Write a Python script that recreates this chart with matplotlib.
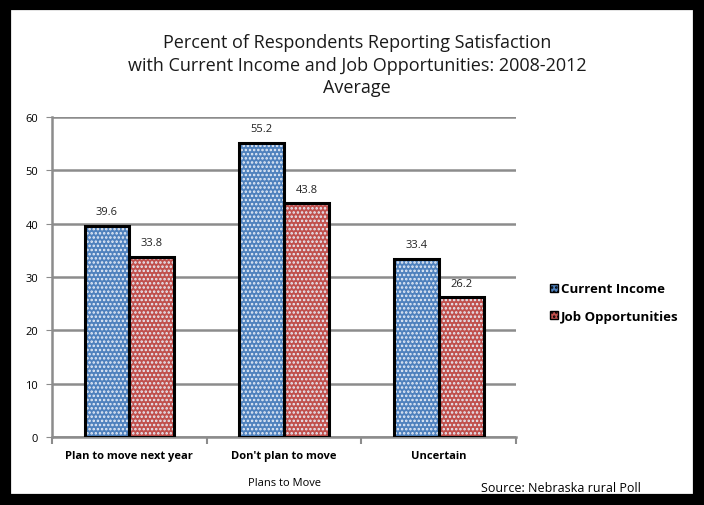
import numpy as np
import matplotlib
matplotlib.use('Agg')
import matplotlib.pyplot as plt
from matplotlib.patches import Rectangle, Patch

# ── Data ───────────────────────────────────────────────────
categories = ['Plan to move next year', "Don't plan to move", 'Uncertain']
current_income = [39.6, 55.2, 33.4]
job_opps = [33.8, 43.8, 26.2]
series_names = ['Current Income', 'Job Opportunities']
yticks = [0, 10, 20, 30, 40, 50, 60]

BLUE = '#4F81BD'
RED = '#C0504D'
GRID = '#8C8C8C'

plt.rcParams['font.family'] = ['Open Sans', 'DejaVu Sans']
plt.rcParams['hatch.linewidth'] = 1.2

fig = plt.figure(figsize=(7.04, 5.06), dpi=100, facecolor='white')
ax = fig.add_axes([0.074, 0.134, 0.659, 0.633])

x = np.arange(len(categories))
w = 0.29

for vals, off, col in [(current_income, -w / 2, BLUE), (job_opps, w / 2, RED)]:
    # dotted fill
    ax.bar(x + off, vals, w, color=col, hatch='....', edgecolor='#E8EEF8',
           linewidth=0, zorder=3)
    # black outline
    ax.bar(x + off, vals, w, fill=False, edgecolor='black', linewidth=2.2, zorder=4)
    for xi, v in zip(x + off, vals):
        ax.text(xi, v + 1.6, f'{v}', ha='center', va='bottom', fontsize=8,
                color='#222222', zorder=5)

ax.set_xlim(-0.5, 2.5)
ax.set_ylim(0, 60)
ax.set_yticks(yticks)
ax.tick_params(axis='y', labelsize=8, length=4, color=GRID, pad=6)
ax.set_xticks(x)
ax.set_xticklabels(categories, fontsize=8, fontweight='bold')
ax.tick_params(axis='x', length=0, pad=9)
ax.set_xticks([-0.5, 0.5, 1.5, 2.5], minor=True)
ax.tick_params(axis='x', which='minor', length=5, color=GRID, width=1.5)
ax.set_xlabel('Plans to Move', fontsize=8, labelpad=12)

ax.grid(axis='y', color=GRID, linewidth=1.8, zorder=0)
ax.set_axisbelow(True)
for s in ['top', 'right']:
    ax.spines[s].set_visible(False)
ax.spines['left'].set_color(GRID)
ax.spines['left'].set_linewidth(1.8)
ax.spines['bottom'].set_color(GRID)
ax.spines['bottom'].set_linewidth(1.8)

# ── Title ──────────────────────────────────────────────────
fig.text(0.507, 0.932,
         'Percent of Respondents Reporting Satisfaction\n'
         'with Current Income and Job Opportunities: 2008-2012\nAverage',
         ha='center', va='top', fontsize=13, linespacing=1.3, color='#1A1A1A')

# ── Legend ─────────────────────────────────────────────────
handles = [Patch(facecolor=BLUE, edgecolor='black', hatch='....', linewidth=1),
           Patch(facecolor=RED, edgecolor='black', hatch='....', linewidth=1)]
fig.legend(handles, series_names, loc='center left', bbox_to_anchor=(0.765, 0.40),
           frameon=False, handlelength=0.6, handleheight=0.6,
           handletextpad=0.2, labelspacing=1.1, prop={'weight': 'bold', 'size': 9.5})

fig.text(0.91, 0.022, 'Source: Nebraska rural Poll', ha='right', va='bottom',
         fontsize=9)

# ── Outer frame ───────────────────────────────────────────
fig.patches.append(Rectangle((0, 0), 1, 1, transform=fig.transFigure, fill=False,
                             edgecolor='black', linewidth=16, zorder=10))

fig.savefig('out.png', dpi=100, facecolor='white')
